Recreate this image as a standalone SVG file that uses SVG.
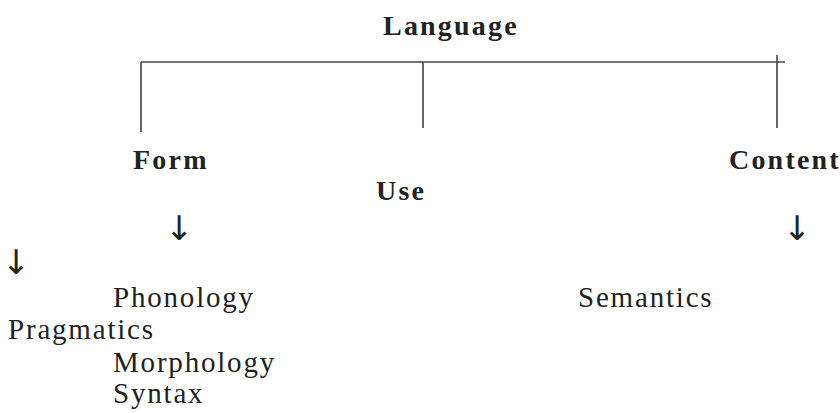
<svg xmlns="http://www.w3.org/2000/svg" width="840" height="413" viewBox="0 0 840 413">
<style>
.h{font-family:"Liberation Serif","Times New Roman",serif;font-weight:bold;font-size:28px;letter-spacing:2.2px;fill:#222}
.t{font-family:"Liberation Serif","Times New Roman",serif;font-size:29px;letter-spacing:1.8px;fill:#222}
.a{font-family:"DejaVu Sans",sans-serif;font-size:34px;fill:#222}
.ln{stroke:#444;stroke-width:1.6;fill:none}
</style>
<rect width="840" height="413" fill="#fff"/>
<g id="connectors">
<path class="ln" d="M141 62H785M141 62V132M423 62V128M777 55V128"/>
<text class="a" x="179" y="240" text-anchor="middle">↓</text>
<text class="a" x="16" y="274" text-anchor="middle">↓</text>
<text class="a" x="797" y="240" text-anchor="middle">↓</text>
</g>
<g id="language"><text class="h" x="383" y="35">Language</text></g>
<g id="form"><text class="h" x="133" y="169">Form</text></g>
<g id="use"><text class="h" x="376" y="200">Use</text></g>
<g id="content"><text class="h" x="729" y="169" letter-spacing="1.9">Content</text></g>
<g id="phonology"><text class="t" x="113" y="307">Phonology</text></g>
<g id="pragmatics"><text class="t" x="8" y="339">Pragmatics</text></g>
<g id="morphology"><text class="t" x="113" y="372">Morphology</text></g>
<g id="syntax"><text class="t" x="113" y="403">Syntax</text></g>
<g id="semantics"><text class="t" x="578" y="307" letter-spacing="1.5">Semantics</text></g>
</svg>
